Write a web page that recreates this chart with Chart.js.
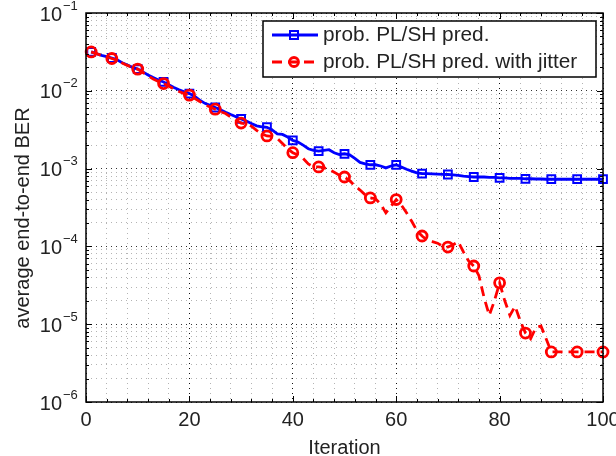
<!DOCTYPE html>
<html lang="en">
<head>
<meta charset="utf-8">
<title>average end-to-end BER</title>
<script src="https://cdn.jsdelivr.net/npm/chart.js@4.4.1/dist/chart.umd.min.js"></script>
<style>
  html, body { margin: 0; padding: 0; background: #fff; }
</style>
</head>
<body>
<canvas id="berChart" width="616" height="456"></canvas>
<script>

const iterations = Array.from({ length: 100 }, (_, i) => i + 1);
const markerIterations = [1, 5, 10, 15, 20, 25, 30, 35, 40, 45, 50, 55, 60, 65, 70, 75, 80, 85, 90, 95, 100];

const seriesNames = ['prob. PL/SH pred.', 'prob. PL/SH pred. with jitter'];

const berPred = [
    3.16e-2, 3.0e-2, 2.85e-2, 2.75e-2, 2.64e-2,
    2.5e-2, 2.3e-2, 2.15e-2, 2.0e-2, 1.9e-2,
    1.75e-2, 1.6e-2, 1.48e-2, 1.38e-2, 1.3e-2,
    1.2e-2, 1.1e-2, 1.03e-2, 9.7e-3, 9.2e-3,
    8.5e-3, 7.6e-3, 6.9e-3, 6.5e-3, 6.1e-3,
    5.7e-3, 5.3e-3, 4.95e-3, 4.65e-3, 4.35e-3,
    4.1e-3, 3.8e-3, 3.55e-3, 3.45e-3, 3.4e-3,
    3.15e-3, 2.8e-3, 2.75e-3, 2.55e-3, 2.3e-3,
    2.2e-3, 2.0e-3, 1.8e-3, 1.72e-3, 1.68e-3,
    1.72e-3, 1.75e-3, 1.6e-3, 1.52e-3, 1.55e-3,
    1.5e-3, 1.35e-3, 1.2e-3, 1.15e-3, 1.12e-3,
    1.12e-3, 1.08e-3, 1.02e-3, 1.08e-3, 1.12e-3,
    1.05e-3, 9.8e-4, 9.3e-4, 8.8e-4, 8.6e-4,
    8.6e-4, 8.55e-4, 8.5e-4, 8.45e-4, 8.4e-4,
    8.3e-4, 8.2e-4, 8.0e-4, 7.9e-4, 7.8e-4,
    7.8e-4, 7.8e-4, 7.7e-4, 7.7e-4, 7.6e-4,
    7.6e-4, 7.5e-4, 7.5e-4, 7.5e-4, 7.4e-4,
    7.4e-4, 7.35e-4, 7.35e-4, 7.3e-4, 7.3e-4,
    7.3e-4, 7.3e-4, 7.3e-4, 7.3e-4, 7.3e-4,
    7.3e-4, 7.3e-4, 7.3e-4, 7.3e-4, 7.3e-4
];

const berJitter = [
    3.16e-2, 3.0e-2, 2.85e-2, 2.72e-2, 2.6e-2,
    2.45e-2, 2.28e-2, 2.12e-2, 2.0e-2, 1.9e-2,
    1.72e-2, 1.56e-2, 1.42e-2, 1.32e-2, 1.24e-2,
    1.15e-2, 1.05e-2, 9.8e-3, 9.2e-3, 8.8e-3,
    8.0e-3, 7.3e-3, 6.6e-3, 6.2e-3, 5.8e-3,
    5.4e-3, 5.1e-3, 4.6e-3, 4.2e-3, 3.85e-3,
    3.75e-3, 3.5e-3, 3.1e-3, 2.8e-3, 2.63e-3,
    2.6e-3, 2.45e-3, 2.1e-3, 1.8e-3, 1.6e-3,
    1.5e-3, 1.35e-3, 1.15e-3, 1.05e-3, 1.05e-3,
    1.03e-3, 9.8e-4, 9.0e-4, 8.2e-4, 7.8e-4,
    7.0e-4, 6.0e-4, 5.3e-4, 4.6e-4, 4.2e-4,
    4.1e-4, 3.5e-4, 2.7e-4, 3.3e-4, 4.0e-4,
    3.4e-4, 2.7e-4, 2.1e-4, 1.6e-4, 1.36e-4,
    1.2e-4, 1.15e-4, 1.1e-4, 1.0e-4, 9.8e-5,
    1.05e-4, 1.15e-4, 8.5e-5, 6.5e-5, 5.6e-5,
    4.2e-5, 2.2e-5, 1.3e-5, 2.0e-5, 3.4e-5,
    2.0e-5, 1.3e-5, 1.7e-5, 1.1e-5, 7.7e-6,
    6.5e-6, 9.0e-6, 9.5e-6, 6.5e-6, 4.4e-6,
    4.4e-6, 4.4e-6, 4.4e-6, 4.4e-6, 4.4e-6,
    4.4e-6, 4.4e-6, 4.4e-6, 4.4e-6, 4.4e-6
];

const xTickLabels = [0, 20, 40, 60, 80, 100];
const xGridValues = [0, 4, 8, 12, 16, 20, 24, 28, 32, 36, 40, 44, 48, 52, 56, 60, 64, 68, 72, 76, 80, 84, 88, 92, 96, 100];
const yDecades = [1e-6, 1e-5, 1e-4, 1e-3, 1e-2, 1e-1];
const yMinorSteps = [2, 3, 4, 5, 6, 7, 8, 9];

const FONT = '"Liberation Sans", Arial, sans-serif';

const isDecade = v => Math.abs(Math.log10(v) - Math.round(Math.log10(v))) < 1e-6;
const isMarker = ctx => markerIterations.includes(iterations[ctx.dataIndex]);

const yGridValues = [];
yDecades.forEach((d, i) => {
    yGridValues.push(d);
    if (i < yDecades.length - 1) yMinorSteps.forEach(m => yGridValues.push(m * d));
});

const frame = {
    id: 'frame',
    afterDraw (chart) {
        const { ctx, chartArea: a, scales: { x, y } } = chart;
        ctx.save();

        // inward tick marks on all four sides
        ctx.strokeStyle = '#000';
        ctx.lineWidth = 1;
        ctx.setLineDash([]);
        ctx.beginPath();
        yGridValues.forEach(v => {
            const p = Math.round(y.getPixelForValue(v)) + 0.5;
            const len = isDecade(v) ? 6 : 3;
            ctx.moveTo(a.left, p); ctx.lineTo(a.left + len, p);
            ctx.moveTo(a.right, p); ctx.lineTo(a.right - len, p);
        });
        xGridValues.forEach(v => {
            const p = Math.round(x.getPixelForValue(v)) + 0.5;
            const len = v % 20 === 0 ? 6 : 3;
            ctx.moveTo(p, a.bottom); ctx.lineTo(p, a.bottom - len);
            ctx.moveTo(p, a.top); ctx.lineTo(p, a.top + len);
        });
        ctx.stroke();

        ctx.lineWidth = 1.5;
        ctx.strokeRect(a.left, a.top, a.right - a.left, a.bottom - a.top);

        // tick labels
        ctx.fillStyle = '#222';
        ctx.font = '20px ' + FONT;
        ctx.textAlign = 'center';
        ctx.textBaseline = 'middle';
        xTickLabels.forEach(v => ctx.fillText(String(v), x.getPixelForValue(v), 420));

        yDecades.forEach(v => {
            const p = y.getPixelForValue(v);
            ctx.font = '20px ' + FONT;
            ctx.textAlign = 'right';
            ctx.textBaseline = 'middle';
            ctx.fillText('10', 62, p + 2);
            ctx.font = '13px ' + FONT;
            ctx.textAlign = 'left';
            ctx.fillText('\u2212' + Math.abs(Math.round(Math.log10(v))), 63, p - 7);
        });

        // axis titles
        ctx.font = '20px ' + FONT;
        ctx.textAlign = 'center';
        ctx.textBaseline = 'alphabetic';
        ctx.fillText('Iteration', (a.left + a.right) / 2, 454);
        ctx.save();
        ctx.translate(29, 218);
        ctx.rotate(-Math.PI / 2);
        ctx.fillText('average end-to-end BER', 0, 0);
        ctx.restore();

        // legend
        const box = { left: 263, top: 21, right: 596, bottom: 77 };
        ctx.fillStyle = '#fff';
        ctx.fillRect(box.left, box.top, box.right - box.left, box.bottom - box.top);
        ctx.strokeStyle = '#000';
        ctx.lineWidth = 1.5;
        ctx.strokeRect(box.left, box.top, box.right - box.left, box.bottom - box.top);

        const rows = [35, 62];
        [0, 1].forEach(i => {
            const ds = chart.data.datasets[i];
            const ry = rows[i];
            ctx.strokeStyle = ds.borderColor;
            ctx.lineWidth = ds.borderWidth;
            ctx.setLineDash(ds.borderDash || []);
            ctx.beginPath();
            ctx.moveTo(272, ry);
            ctx.lineTo(318, ry);
            ctx.stroke();
            ctx.setLineDash([]);
            ctx.lineWidth = ds.pointBorderWidth;
            ctx.beginPath();
            if (ds.pointStyle === 'rect') {
                ctx.rect(290, ry - 4, 8, 8);
            } else {
                ctx.arc(294, ry, 4.5, 0, Math.PI * 2);
            }
            ctx.stroke();
            ctx.fillStyle = '#222';
            ctx.font = '20.8px ' + FONT;
            ctx.textAlign = 'left';
            ctx.textBaseline = 'middle';
            ctx.fillText(ds.label, 323, ry);
        });

        ctx.restore();
    }
};

new Chart(document.getElementById('berChart'), {
    type: 'line',
    data: {
        datasets: [
            {
                label: seriesNames[0],
                data: iterations.map((it, i) => ({ x: it, y: berPred[i] })),
                borderColor: '#0000ff',
                borderWidth: 2.8,
                pointStyle: 'rect',
                pointRadius: ctx => isMarker(ctx) ? 5.5 : 0,
                pointBorderWidth: 2,
                pointBorderColor: '#0000ff',
                pointBackgroundColor: 'rgba(0,0,0,0)',
                tension: 0,
                clip: 10,
                order: 2
            },
            {
                label: seriesNames[1],
                data: iterations.map((it, i) => ({ x: it, y: berJitter[i] })),
                borderColor: '#ff0000',
                borderWidth: 2.8,
                borderDash: [10, 6],
                pointStyle: 'circle',
                pointRadius: ctx => isMarker(ctx) ? 5 : 0,
                pointBorderWidth: 2.8,
                pointBorderColor: '#ff0000',
                pointBackgroundColor: 'rgba(0,0,0,0)',
                tension: 0,
                clip: 10,
                order: 1
            }
        ]
    },
    options: {
        responsive: false,
        animation: false,
        devicePixelRatio: 1,
        layout: { padding: { left: 0, right: 13, top: 13, bottom: 0 } },
        plugins: {
            legend: { display: false },
            tooltip: { enabled: false }
        },
        elements: { point: { hoverRadius: 0 } },
        scales: {
            x: {
                type: 'linear',
                min: 0,
                max: 100,
                afterBuildTicks: s => { s.ticks = xGridValues.map(v => ({ value: v })); },
                afterFit: s => { s.height = 54; },
                ticks: { display: false },
                grid: {
                    drawTicks: false,
                    lineWidth: 1,
                    color: ctx => (ctx.tick && ctx.tick.value % 20 === 0) ? '#111' : '#b4b4b4'
                },
                border: { display: false, dash: [1, 4] }
            },
            y: {
                type: 'logarithmic',
                min: 1e-6,
                max: 1e-1,
                afterBuildTicks: s => { s.ticks = yGridValues.map(v => ({ value: v })); },
                afterFit: s => { s.width = 86; },
                ticks: { display: false },
                grid: {
                    drawTicks: false,
                    lineWidth: 1,
                    color: ctx => (ctx.tick && isDecade(ctx.tick.value)) ? '#333' : '#b4b4b4'
                },
                border: { display: false, dash: [1, 4] }
            }
        }
    },
    plugins: [frame]
});

</script>
</body>
</html>
